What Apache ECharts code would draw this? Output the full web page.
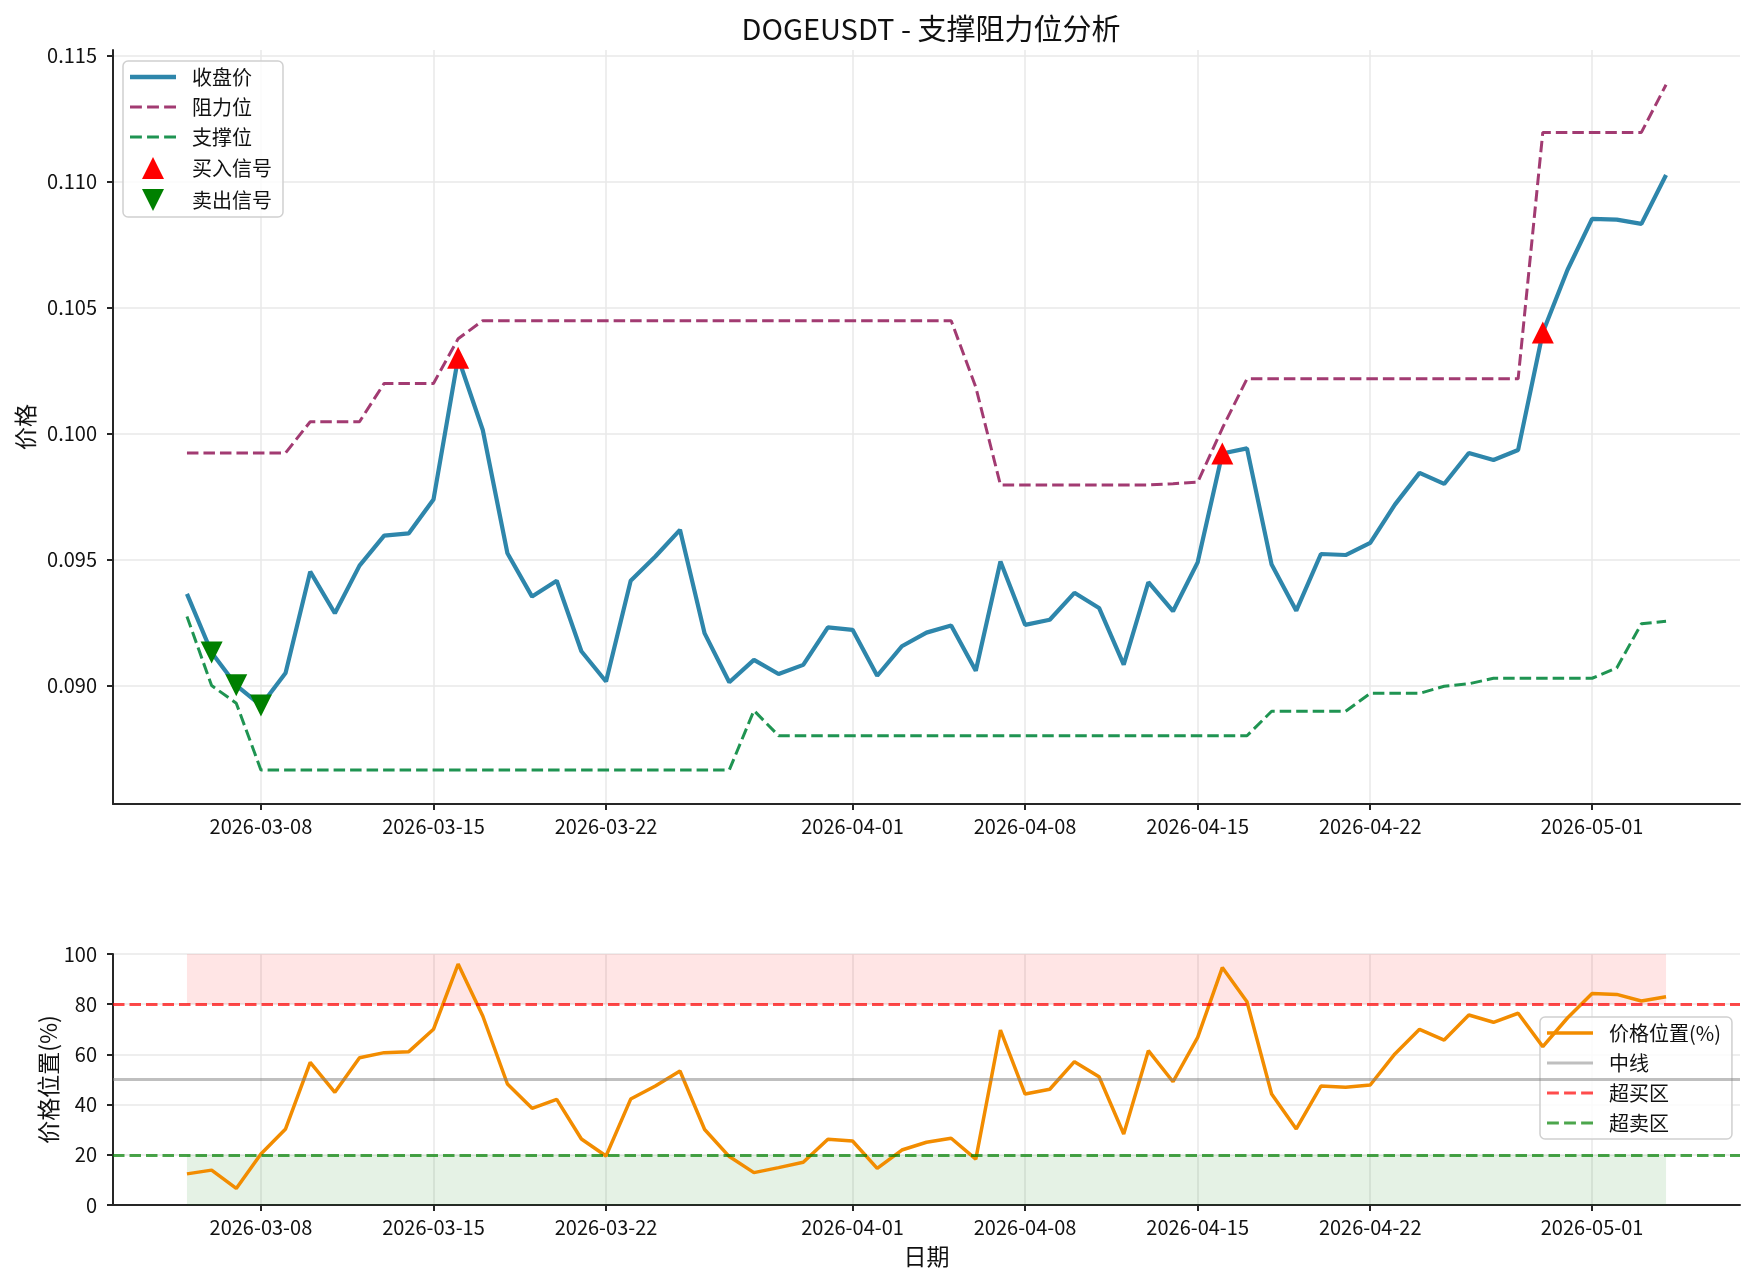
<!DOCTYPE html>
<html>
<head>
<meta charset="utf-8">
<script src="https://cdn.jsdelivr.net/npm/echarts@6/dist/echarts.min.js"></script>
<style>
  html, body { margin: 0; padding: 0; background: #fff; }
  #chart { width: 1755px; height: 1284px; }
</style>
</head>
<body>
<div id="chart"></div>
<script>
// 日期: 2026-03-05 ~ 2026-05-04 (61天)
const startDate = '2026-03-05'
const dayCount = 61
const tickDates = ['2026-03-08', '2026-03-15', '2026-03-22', '2026-04-01', '2026-04-08', '2026-04-15', '2026-04-22', '2026-05-01']
const priceTicks = [0.090, 0.095, 0.100, 0.105, 0.110, 0.115]

const closePrice = [
  0.09363, 0.09130, 0.09000, 0.08920, 0.09049, 0.09451, 0.09286, 0.09475, 0.09594, 0.09603,
  0.09737, 0.10300, 0.10013, 0.09524, 0.09352, 0.09415, 0.09135, 0.09015, 0.09415, 0.09511,
  0.09617, 0.09206, 0.09012, 0.09101, 0.09045, 0.09081, 0.09230, 0.09220, 0.09038, 0.09155,
  0.09209, 0.09237, 0.09058, 0.09491, 0.09240, 0.09260, 0.09367, 0.09307, 0.09082, 0.09409,
  0.09294, 0.09488, 0.09920, 0.09940, 0.09479, 0.09296, 0.09521, 0.09517, 0.09565, 0.09717,
  0.09843, 0.09799, 0.09922, 0.09894, 0.09934, 0.10400, 0.10648, 0.10851, 0.10848, 0.10831,
  0.11025
]
const resistance = [
  0.09922, 0.09922, 0.09922, 0.09922, 0.09922, 0.10046, 0.10046, 0.10046, 0.10198, 0.10198,
  0.10198, 0.10375, 0.10447, 0.10447, 0.10447, 0.10447, 0.10447, 0.10447, 0.10447, 0.10447,
  0.10447, 0.10447, 0.10447, 0.10447, 0.10447, 0.10447, 0.10447, 0.10447, 0.10447, 0.10447,
  0.10447, 0.10447, 0.10183, 0.09795, 0.09795, 0.09795, 0.09795, 0.09795, 0.09795, 0.09795,
  0.09800, 0.09806, 0.10020, 0.10216, 0.10216, 0.10216, 0.10216, 0.10216, 0.10216, 0.10216,
  0.10216, 0.10216, 0.10216, 0.10216, 0.10216, 0.11194, 0.11194, 0.11194, 0.11194, 0.11194,
  0.11383
]
const support = [
  0.09273, 0.08999, 0.08929, 0.08664, 0.08664, 0.08664, 0.08664, 0.08664, 0.08664, 0.08664,
  0.08664, 0.08664, 0.08664, 0.08664, 0.08664, 0.08664, 0.08664, 0.08664, 0.08664, 0.08664,
  0.08664, 0.08664, 0.08664, 0.08900, 0.08800, 0.08800, 0.08800, 0.08800, 0.08800, 0.08800,
  0.08800, 0.08800, 0.08800, 0.08800, 0.08800, 0.08800, 0.08800, 0.08800, 0.08800, 0.08800,
  0.08800, 0.08800, 0.08800, 0.08800, 0.08897, 0.08897, 0.08897, 0.08897, 0.08968, 0.08968,
  0.08968, 0.08996, 0.09006, 0.09028, 0.09028, 0.09028, 0.09028, 0.09028, 0.09069, 0.09244,
  0.09254
]
const pricePosition = [
  12.4, 13.9, 6.6, 20.3, 30.3, 56.8, 44.9, 58.7, 60.7, 61.1,
  70.0, 96.0, 75.3, 48.2, 38.5, 42.1, 26.3, 19.5, 42.2, 47.4,
  53.4, 30.1, 19.3, 12.9, 14.9, 17.0, 26.2, 25.5, 14.6, 21.9,
  25.0, 26.6, 18.3, 69.7, 44.2, 46.1, 57.1, 51.1, 28.3, 61.5,
  49.1, 66.8, 94.6, 81.0, 44.2, 30.3, 47.4, 46.9, 47.8, 60.2,
  70.0, 65.7, 75.7, 72.8, 76.4, 63.1, 74.5, 84.3, 83.9, 81.3,
  83.0
]
const buyDates = ['2026-03-16', '2026-04-16', '2026-04-29']
const buyPrices = [0.10300, 0.09920, 0.10400]
const sellDates = ['2026-03-06', '2026-03-07', '2026-03-08']
const sellPrices = [0.09130, 0.09000, 0.08920]

const fontFamily = '"Noto Sans CJK SC", "Noto Sans", sans-serif'

function fmt(d) {
  const m = String(d.getUTCMonth() + 1).padStart(2, '0')
  const day = String(d.getUTCDate()).padStart(2, '0')
  return d.getUTCFullYear() + '-' + m + '-' + day
}
function addDays(s, n) {
  const d = new Date(s + 'T00:00:00Z')
  d.setUTCDate(d.getUTCDate() + n)
  return fmt(d)
}

const dates = []
for (let i = 0; i < dayCount; i++) dates.push(addDays(startDate, i))
// 轴两端各留3天 (同 matplotlib 的 5% 边距)
const axisDays = []
for (let i = -3; i < dayCount + 3; i++) axisDays.push(addDays(startDate, i))

const pair = (arr) => arr.map((v, i) => [dates[i], v])
const isTick = (idx, val) => tickDates.indexOf(val) >= 0

// 图例图标
const solidIcon = (h) => 'path://M0,0H46V' + h + 'H0Z'
const dashIcon = 'path://M0,0H11.5V3H0ZM16.5,0H28V3H16.5ZM33,0H44.5V3H33Z'
const upIcon = 'path://M10,0L20,20L0,20Z'
const downIcon = 'path://M0,0L20,0L10,20Z'

const gridColor = '#e8e8e8'
const axisColor = '#262626'

function makeXAxis(gridIndex, name) {
  return {
    type: 'category',
    gridIndex,
    data: axisDays,
    boundaryGap: false,
    name,
    nameLocation: 'middle',
    nameGap: 40,
    nameMoveOverlap: false,
    nameTextStyle: { fontSize: 23, color: '#111', fontFamily },
    axisLine: { lineStyle: { color: axisColor, width: 2 } },
    axisTick: { show: true, interval: isTick, length: 6, lineStyle: { color: axisColor, width: 2 } },
    axisLabel: { interval: isTick, fontSize: 20, color: '#111', fontFamily, margin: 12 },
    splitLine: { show: true, interval: isTick, lineStyle: { color: gridColor, width: 1.5 } }
  }
}

const legendBase = {
  orient: 'vertical',
  itemWidth: 46,
  itemHeight: 22,
  itemGap: 10,
  symbolKeepAspect: true,
  backgroundColor: 'rgba(255,255,255,0.8)',
  borderColor: '#d0d0d0',
  borderWidth: 1.5,
  borderRadius: 5,
  textStyle: { fontSize: 20, color: '#111', fontFamily, padding: [0, 0, 0, 11] }
}

const option = {
  animation: false,
  backgroundColor: '#fff',
  title: {
    text: 'DOGEUSDT - 支撑阻力位分析',
    left: 926,
    top: 9,
    textAlign: 'center',
    textStyle: { fontSize: 29, fontWeight: 'normal', color: '#111', fontFamily }
  },
  grid: [
    { left: 113, right: 15, top: 50, bottom: 480, outerBoundsMode: 'none' },
    { left: 113, right: 15, top: 954, bottom: 79, outerBoundsMode: 'none' }
  ],
  legend: [
    Object.assign({}, legendBase, {
      left: 123,
      top: 61,
      padding: [6, 11, 6, 7],
      data: [
        { name: '收盘价', icon: solidIcon(4.5) },
        { name: '阻力位', icon: dashIcon },
        { name: '支撑位', icon: dashIcon },
        { name: '买入信号', icon: upIcon },
        { name: '卖出信号', icon: downIcon }
      ]
    }),
    Object.assign({}, legendBase, {
      left: 1540,
      top: 1017,
      padding: [6, 11, 6, 7],
      data: [
        { name: '价格位置(%)', icon: solidIcon(3.5) },
        { name: '中线', icon: solidIcon(3) },
        { name: '超买区', icon: dashIcon },
        { name: '超卖区', icon: dashIcon }
      ]
    })
  ],
  xAxis: [makeXAxis(0, ''), makeXAxis(1, '日期')],
  yAxis: [
    {
      type: 'value',
      gridIndex: 0,
      min: 0.08529,
      max: 0.11521,
      name: '价格',
      nameLocation: 'middle',
      nameGap: 76,
      nameMoveOverlap: false,
      nameTextStyle: { fontSize: 23, color: '#111', fontFamily },
      axisLine: { show: true, lineStyle: { color: axisColor, width: 2 } },
      axisTick: { show: true, length: 6, customValues: priceTicks, lineStyle: { color: axisColor, width: 2 } },
      axisLabel: { fontSize: 20, color: '#111', fontFamily, margin: 16, customValues: priceTicks, formatter: (v) => v.toFixed(3) },
      splitLine: { show: true, lineStyle: { color: gridColor, width: 1.5 } }
    },
    {
      type: 'value',
      gridIndex: 1,
      min: 0,
      max: 100,
      interval: 20,
      name: '价格位置(%)',
      nameLocation: 'middle',
      nameGap: 53,
      nameMoveOverlap: false,
      nameTextStyle: { fontSize: 23, color: '#111', fontFamily },
      axisLine: { show: true, lineStyle: { color: axisColor, width: 2 } },
      axisTick: { show: true, length: 6, lineStyle: { color: axisColor, width: 2 } },
      axisLabel: { fontSize: 20, color: '#111', fontFamily, margin: 16 },
      splitLine: { show: true, lineStyle: { color: gridColor, width: 1.5 } }
    }
  ],
  series: [
    {
      name: '收盘价',
      type: 'line',
      xAxisIndex: 0,
      yAxisIndex: 0,
      data: pair(closePrice),
      symbol: 'none',
      color: '#2E86AB',
      lineStyle: { color: '#2E86AB', width: 4.2 },
      z: 3
    },
    {
      name: '阻力位',
      type: 'line',
      xAxisIndex: 0,
      yAxisIndex: 0,
      data: pair(resistance),
      symbol: 'none',
      color: '#A23B72',
      lineStyle: { color: '#A23B72', width: 3, type: [11.5, 5] }
    },
    {
      name: '支撑位',
      type: 'line',
      xAxisIndex: 0,
      yAxisIndex: 0,
      data: pair(support),
      symbol: 'none',
      color: '#1F9452',
      lineStyle: { color: '#1F9452', width: 3, type: [11.5, 5] }
    },
    {
      name: '买入信号',
      type: 'scatter',
      xAxisIndex: 0,
      yAxisIndex: 0,
      data: buyDates.map((d, i) => [d, buyPrices[i]]),
      symbol: 'triangle',
      symbolSize: 22,
      color: '#ff0000',
      itemStyle: { color: '#ff0000', opacity: 1 },
      z: 5
    },
    {
      name: '卖出信号',
      type: 'scatter',
      xAxisIndex: 0,
      yAxisIndex: 0,
      data: sellDates.map((d, i) => [d, sellPrices[i]]),
      symbol: 'triangle',
      symbolRotate: 180,
      symbolSize: 22,
      color: '#008000',
      itemStyle: { color: '#008000', opacity: 1 },
      z: 5
    },
    {
      name: '价格位置(%)',
      type: 'line',
      xAxisIndex: 1,
      yAxisIndex: 1,
      data: pair(pricePosition),
      symbol: 'none',
      color: '#F28C00',
      lineStyle: { color: '#F28C00', width: 3.5 },
      z: 4,
      markArea: {
        silent: true,
        data: [
          [{ xAxis: dates[0], yAxis: 80, itemStyle: { color: 'rgba(255,0,0,0.1)' } }, { xAxis: dates[dates.length - 1], yAxis: 100 }],
          [{ xAxis: dates[0], yAxis: 0, itemStyle: { color: 'rgba(0,128,0,0.1)' } }, { xAxis: dates[dates.length - 1], yAxis: 20 }]
        ]
      }
    },
    {
      name: '中线',
      type: 'line',
      xAxisIndex: 1,
      yAxisIndex: 1,
      data: [],
      symbol: 'none',
      color: 'rgba(128,128,128,0.5)',
      lineStyle: { color: 'rgba(128,128,128,0.5)', width: 3 },
      markLine: {
        silent: true,
        symbol: 'none',
        label: { show: false },
        lineStyle: { color: 'rgba(128,128,128,0.5)', width: 3, type: 'solid' },
        data: [{ yAxis: 50 }]
      }
    },
    {
      name: '超买区',
      type: 'line',
      xAxisIndex: 1,
      yAxisIndex: 1,
      data: [],
      symbol: 'none',
      color: 'rgba(255,0,0,0.7)',
      lineStyle: { color: 'rgba(255,0,0,0.7)', width: 3, type: [11.5, 5] },
      markLine: {
        silent: true,
        symbol: 'none',
        label: { show: false },
        lineStyle: { color: 'rgba(255,0,0,0.7)', width: 3, type: [11.5, 5] },
        data: [{ yAxis: 80 }]
      }
    },
    {
      name: '超卖区',
      type: 'line',
      xAxisIndex: 1,
      yAxisIndex: 1,
      data: [],
      symbol: 'none',
      color: 'rgba(0,128,0,0.7)',
      lineStyle: { color: 'rgba(0,128,0,0.7)', width: 3, type: [11.5, 5] },
      markLine: {
        silent: true,
        symbol: 'none',
        label: { show: false },
        lineStyle: { color: 'rgba(0,128,0,0.7)', width: 3, type: [11.5, 5] },
        data: [{ yAxis: 20 }]
      }
    }
  ]
}

const myChart = echarts.init(document.getElementById('chart'), null, { renderer: 'canvas' })
myChart.setOption(option)
</script>
</body>
</html>
